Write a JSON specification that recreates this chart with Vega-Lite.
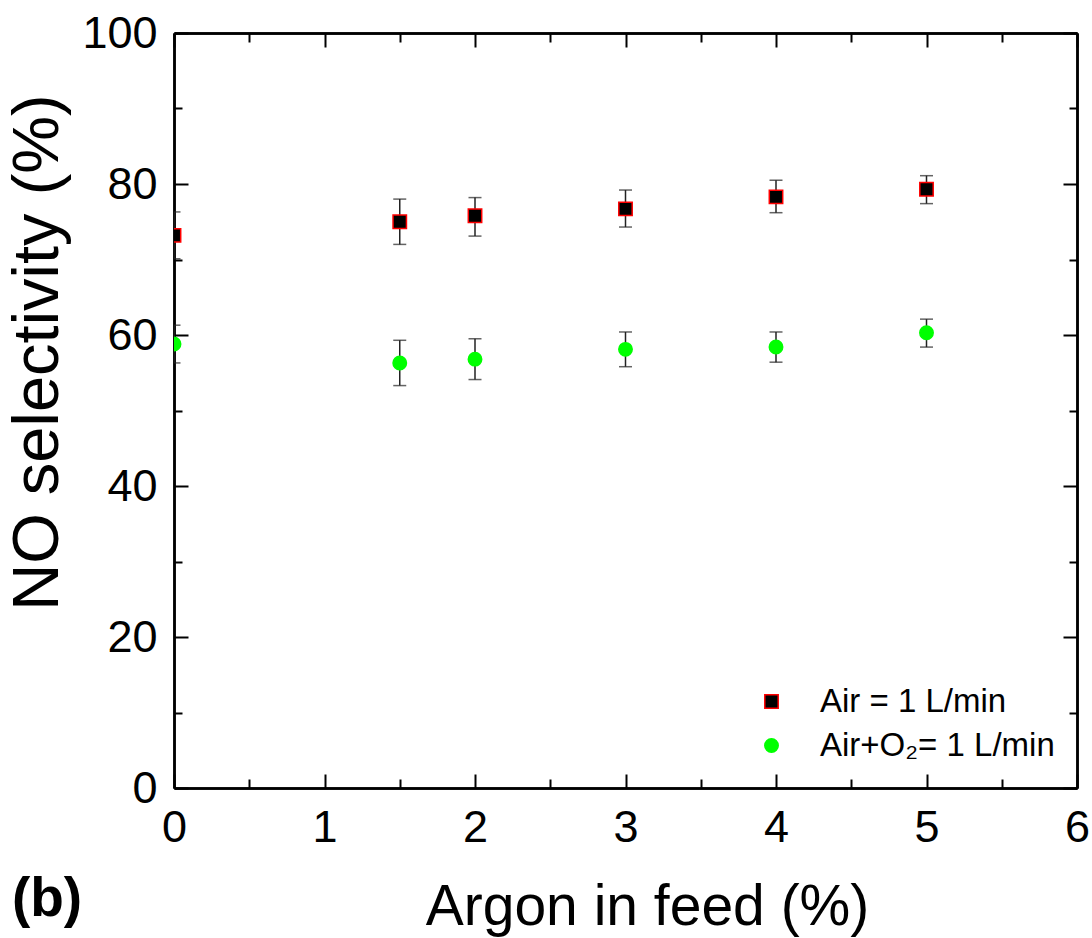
{
  "$schema": "https://vega.github.io/schema/vega-lite/v6.json",
  "width": 903,
  "height": 755,
  "autosize": {"type": "none"},
  "padding": {"left": 174, "top": 33, "right": 15, "bottom": 150},
  "background": "white",
  "config": {
    "font": "Liberation Sans",
    "view": {"stroke": null},
    "axis": {
      "domainColor": "black",
      "domainWidth": 2.5,
      "tickColor": "black",
      "tickWidth": 2,
      "grid": false,
      "labelFont": "Liberation Sans",
      "labelFontSize": 45,
      "labelColor": "black",
      "labelFlush": false,
      "labelOverlap": false,
      "titleFont": "Liberation Sans",
      "titleFontWeight": "normal",
      "titleColor": "black"
    },
    "legend": {
      "orient": "none",
      "legendX": 581,
      "legendY": 652,
      "padding": 0,
      "title": null,
      "labelFont": "Liberation Sans",
      "labelFontSize": 33,
      "labelColor": "black",
      "labelOffset": 32,
      "symbolSize": 180,
      "symbolStrokeWidth": 1.5,
      "rowPadding": 10,
      "labelLimit": 400
    }
  },
  "title": {
    "text": "(b)",
    "orient": "bottom",
    "anchor": "start",
    "frame": "bounds",
    "font": "Liberation Sans",
    "fontSize": 55,
    "fontWeight": "bold",
    "color": "black",
    "offset": -62,
    "dx": 6
  },
  "data": {
    "values": [
      {"x": 0, "y": 73.2, "lo": 70.1, "hi": 76.3, "series": "Air = 1 L/min"},
      {"x": 1.5, "y": 75.0, "lo": 72.0, "hi": 78.0, "series": "Air = 1 L/min"},
      {"x": 2, "y": 75.8, "lo": 73.1, "hi": 78.2, "series": "Air = 1 L/min"},
      {"x": 3, "y": 76.7, "lo": 74.3, "hi": 79.2, "series": "Air = 1 L/min"},
      {"x": 4, "y": 78.3, "lo": 76.2, "hi": 80.5, "series": "Air = 1 L/min"},
      {"x": 5, "y": 79.3, "lo": 77.4, "hi": 81.1, "series": "Air = 1 L/min"},
      {"x": 0, "y": 58.8, "lo": 56.3, "hi": 61.3, "series": "Air+O₂= 1 L/min"},
      {"x": 1.5, "y": 56.3, "lo": 53.3, "hi": 59.3, "series": "Air+O₂= 1 L/min"},
      {"x": 2, "y": 56.8, "lo": 54.1, "hi": 59.5, "series": "Air+O₂= 1 L/min"},
      {"x": 3, "y": 58.1, "lo": 55.8, "hi": 60.4, "series": "Air+O₂= 1 L/min"},
      {"x": 4, "y": 58.4, "lo": 56.4, "hi": 60.4, "series": "Air+O₂= 1 L/min"},
      {"x": 5, "y": 60.3, "lo": 58.4, "hi": 62.1, "series": "Air+O₂= 1 L/min"}
    ]
  },
  "layer": [
    {
      "mark": {
        "type": "errorbar",
        "clip": true,
        "ticks": {"size": 13, "thickness": 1.5, "color": "#222"},
        "rule": {"strokeWidth": 1.5, "color": "#222"}
      },
      "encoding": {
        "x": {"field": "x", "type": "quantitative", "scale": {"domain": [0, 6]}, "axis": null},
        "y": {"field": "lo", "type": "quantitative", "scale": {"domain": [0, 100]}, "axis": null},
        "y2": {"field": "hi"}
      }
    },
    {
      "mark": {"type": "point", "filled": true, "clip": true, "size": 180, "strokeWidth": 1.5, "opacity": 1},
      "encoding": {
        "x": {
          "field": "x", "type": "quantitative", "scale": {"domain": [0, 6]},
          "axis": {"orient": "bottom", "values": [0, 1, 2, 3, 4, 5, 6], "tickSize": -14, "labelPadding": 31,
                   "format": "d", "title": "Argon in feed (%)", "titleFontSize": 57, "titlePadding": 29, "titleX": 473}
        },
        "y": {
          "field": "y", "type": "quantitative", "scale": {"domain": [0, 100]},
          "axis": {"orient": "left", "values": [0, 20, 40, 60, 80, 100], "tickSize": -14, "labelPadding": 31,
                   "format": "d", "title": "NO selectivity (%)", "titleFontSize": 65, "titlePadding": 10, "titleY": 319}
        },
        "shape": {"field": "series", "type": "nominal",
                  "scale": {"domain": ["Air = 1 L/min", "Air+O₂= 1 L/min"], "range": ["square", "circle"]}},
        "fill": {"field": "series", "type": "nominal",
                 "scale": {"domain": ["Air = 1 L/min", "Air+O₂= 1 L/min"], "range": ["#000000", "#00ff00"]}},
        "stroke": {"field": "series", "type": "nominal",
                   "scale": {"domain": ["Air = 1 L/min", "Air+O₂= 1 L/min"], "range": ["#ff0000", "#00ff00"]}}
      }
    },
    {
      "mark": {"type": "point", "opacity": 0},
      "encoding": {
        "x": {"field": "x", "type": "quantitative",
              "axis": {"orient": "top", "values": [0, 1, 2, 3, 4, 5, 6], "tickSize": -14, "labels": false, "title": null}},
        "y": {"field": "y", "type": "quantitative",
              "axis": {"orient": "right", "values": [0, 20, 40, 60, 80, 100], "tickSize": -14, "labels": false, "title": null}}
      }
    },
    {
      "mark": {"type": "point", "opacity": 0},
      "encoding": {
        "x": {"field": "x", "type": "quantitative",
              "axis": {"orient": "bottom", "values": [0.5, 1.5, 2.5, 3.5, 4.5, 5.5], "tickSize": -9, "labels": false, "title": null}},
        "y": {"field": "y", "type": "quantitative",
              "axis": {"orient": "left", "values": [10, 30, 50, 70, 90], "tickSize": -8, "labels": false, "title": null}}
      }
    },
    {
      "mark": {"type": "point", "opacity": 0},
      "encoding": {
        "x": {"field": "x", "type": "quantitative",
              "axis": {"orient": "top", "values": [0.5, 1.5, 2.5, 3.5, 4.5, 5.5], "tickSize": -9, "labels": false, "title": null}},
        "y": {"field": "y", "type": "quantitative",
              "axis": {"orient": "right", "values": [10, 30, 50, 70, 90], "tickSize": -8, "labels": false, "title": null}}
      }
    }
  ],
  "resolve": {"axis": {"x": "independent", "y": "independent"}}
}
